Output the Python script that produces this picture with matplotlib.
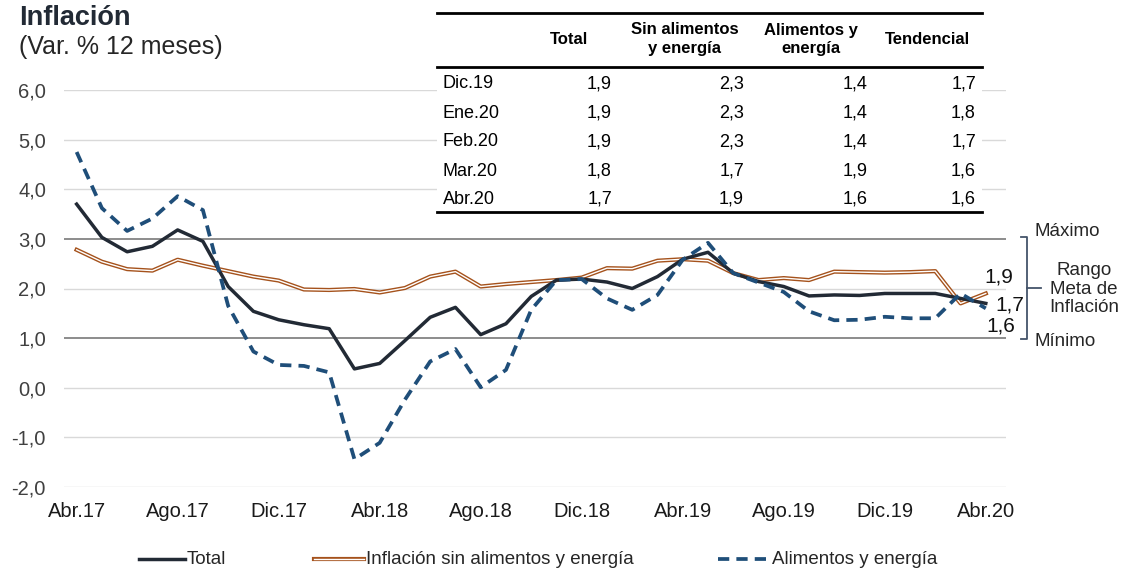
import numpy as np
import matplotlib.pyplot as plt
from matplotlib.lines import Line2D
from matplotlib.patches import Rectangle

plt.rcParams['font.family'] = ['Liberation Sans', 'DejaVu Sans']

months = ['Abr.17', 'May.17', 'Jun.17', 'Jul.17', 'Ago.17', 'Sep.17', 'Oct.17', 'Nov.17',
          'Dic.17', 'Ene.18', 'Feb.18', 'Mar.18', 'Abr.18', 'May.18', 'Jun.18', 'Jul.18',
          'Ago.18', 'Sep.18', 'Oct.18', 'Nov.18', 'Dic.18', 'Ene.19', 'Feb.19', 'Mar.19',
          'Abr.19', 'May.19', 'Jun.19', 'Jul.19', 'Ago.19', 'Sep.19', 'Oct.19', 'Nov.19',
          'Dic.19', 'Ene.20', 'Feb.20', 'Mar.20', 'Abr.20']

total = [3.70, 3.03, 2.74, 2.85, 3.18, 2.95, 2.04, 1.54, 1.37, 1.27, 1.19, 0.38, 0.49,
         0.95, 1.42, 1.62, 1.07, 1.29, 1.84, 2.17, 2.19, 2.13, 2.00, 2.24, 2.59, 2.73,
         2.31, 2.14, 2.04, 1.85, 1.87, 1.86, 1.90, 1.90, 1.90, 1.80, 1.70]

sin_ae = [2.78, 2.54, 2.39, 2.36, 2.58, 2.46, 2.35, 2.24, 2.16, 1.98, 1.97, 1.99, 1.92,
          2.01, 2.24, 2.34, 2.04, 2.09, 2.13, 2.17, 2.22, 2.41, 2.40, 2.56, 2.59, 2.56,
          2.31, 2.17, 2.21, 2.17, 2.34, 2.33, 2.32, 2.33, 2.35, 1.70, 1.90]

ali_ene = [4.75, 3.62, 3.16, 3.41, 3.86, 3.58, 1.65, 0.73, 0.46, 0.44, 0.31, -1.44, -1.11,
           -0.24, 0.53, 0.78, 0.01, 0.36, 1.57, 2.17, 2.19, 1.80, 1.57, 1.87, 2.58, 2.92,
           2.31, 2.12, 1.93, 1.54, 1.36, 1.37, 1.43, 1.40, 1.40, 1.90, 1.60]

# table at the top
tab_cols = ['Total', 'Sin alimentos\ny energía', 'Alimentos y\nenergía', 'Tendencial']
tab_rows = ['Dic.19', 'Ene.20', 'Feb.20', 'Mar.20', 'Abr.20']
tab_vals = [['1,9', '2,3', '1,4', '1,7'],
            ['1,9', '2,3', '1,4', '1,8'],
            ['1,9', '2,3', '1,4', '1,7'],
            ['1,8', '1,7', '1,9', '1,6'],
            ['1,7', '1,9', '1,6', '1,6']]

W, H = 1124, 570
fig = plt.figure(figsize=(W / 100, H / 100), dpi=100)

def fx(px):
    return px / W

def fy(py):
    return 1 - py / H

c_total = '#222a35'
c_sin = '#a5521c'
c_ali = '#1f4e79'
c_txt = '#262626'

ax = fig.add_axes([fx(64), fy(487), fx(1006) - fx(64), fy(90) - fy(487)])
x = np.arange(len(months))

for v in range(-2, 7):
    if v in (1, 3):
        ax.axhline(v, color='#8c8c8c', lw=1.4, zorder=1)
    else:
        ax.axhline(v, color='#d9d9d9', lw=1.0, zorder=1)

ax.plot(x, total, color=c_total, lw=2.5, zorder=4)
ax.plot(x, sin_ae, color=c_sin, lw=3.0, zorder=3)
ax.plot(x, sin_ae, color='white', lw=1.0, zorder=3)
ax.plot(x, ali_ene, color=c_ali, lw=2.7, ls=(0, (3, 1.9)), zorder=5)

ax.set_xlim(-0.5, 36.8)
ax.set_ylim(-2, 6)
ax.set_yticks(range(-2, 7))
ax.set_yticklabels([f'{v:.1f}'.replace('.', ',') for v in range(-2, 7)])
ax.set_xticks(x[::4])
ax.set_xticklabels(months[::4])
ax.tick_params(length=0, labelsize=14.5, colors='#404040')
ax.tick_params(axis='x', pad=11, colors='#1a1a1a')
ax.tick_params(axis='y', pad=13)
for s in ax.spines.values():
    s.set_visible(False)

# end labels
ax.text(36.5, 2.23, '1,9', fontsize=15, ha='center', va='center', color='#111111')
ax.text(36.95, 1.67, '1,7', fontsize=15, ha='center', va='center', color='#111111')
ax.text(36.6, 1.25, '1,6', fontsize=15, ha='center', va='center', color='#111111')

# title
fig.text(fx(19), fy(18), 'Inflación', fontsize=19.5, fontweight='bold', va='center', color=c_total)
fig.text(fx(19), fy(47), '(Var. % 12 meses)', fontsize=18, va='center', color=c_txt)

# table
fig.patches.append(Rectangle((fx(437), fy(213)), fx(982) - fx(437), fy(10) - fy(213),
                             transform=fig.transFigure, facecolor='white', edgecolor='none', zorder=6))
for yy in (13, 67, 212):
    fig.add_artist(Line2D([fx(437), fx(982)], [fy(yy), fy(yy)], color='black', lw=2.0, zorder=7))

col_right = [612, 744, 868, 976]
col_center = [569, 685, 811, 927]
for c, name in enumerate(tab_cols):
    fig.text(fx(col_center[c]), fy(39), name, fontsize=12, fontweight='bold', ha='center',
             va='center', linespacing=1.25, zorder=8)
row_y = [84, 113, 142, 171, 199]
for r, name in enumerate(tab_rows):
    fig.text(fx(443), fy(row_y[r]), name, fontsize=13, va='center', zorder=8)
    for c in range(4):
        fig.text(fx(col_right[c]), fy(row_y[r]), tab_vals[r][c], fontsize=13, ha='right',
                 va='center', zorder=8)

# target range bracket
bx = 1027
fig.add_artist(Line2D([fx(bx - 6), fx(bx), fx(bx), fx(bx - 6)],
                      [fy(237), fy(237), fy(339), fy(339)], color='#44546a', lw=1.3))
fig.add_artist(Line2D([fx(bx), fx(bx + 14)], [fy(288), fy(288)], color='#44546a', lw=1.3))
fig.text(fx(1034), fy(232), 'Máximo', fontsize=13.5, va='center', color=c_txt)
fig.text(fx(1034), fy(342), 'Mínimo', fontsize=13.5, va='center', color=c_txt)
fig.text(fx(1084), fy(289), 'Rango\nMeta de\nInflación', fontsize=13.5, ha='center',
         va='center', color=c_txt, linespacing=1.1)

# legend (drawn by hand to match spacing)
ly = fy(559)
fig.add_artist(Line2D([fx(139), fx(185)], [ly, ly], color=c_total, lw=2.5))
fig.add_artist(Line2D([fx(314), fx(364)], [ly, ly], color=c_sin, lw=3.0))
fig.add_artist(Line2D([fx(314), fx(364)], [ly, ly], color='white', lw=1.0))
fig.add_artist(Line2D([fx(718), fx(770)], [ly, ly], color=c_ali, lw=2.7, ls=(0, (3, 1.9))))
legend_labels = ['Total', 'Inflación sin alimentos y energía', 'Alimentos y energía']
legend_x = [187, 366, 772]
for lx, lab in zip(legend_x, legend_labels):
    fig.text(fx(lx), ly, lab, fontsize=13.5, va='center', color=c_txt)

fig.savefig('out.png', dpi=100)
